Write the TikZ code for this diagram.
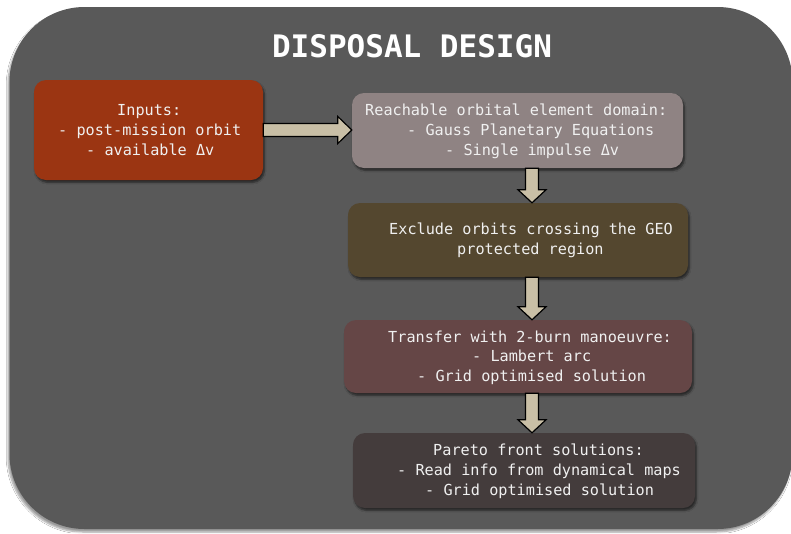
\documentclass[tikz,border=0pt]{standalone}
\usepackage{fontspec}
\newfontfamily\monofnt{DejaVu Sans Mono}
\usetikzlibrary{calc,shadows.blur}
\definecolor{framec}{HTML}{595959}
\definecolor{inc}{HTML}{9B3512}
\definecolor{reachc}{HTML}{8F8383}
\definecolor{exclc}{HTML}{54472F}
\definecolor{transc}{HTML}{654646}
\definecolor{paretoc}{HTML}{443C3C}
\definecolor{arrowc}{HTML}{C9BFA6}
\definecolor{txtc}{HTML}{F0F0F0}
\tikzset{
  frame/.style={fill=framec, rounded corners=75pt, inner sep=0, minimum width=783, minimum height=522,
    blur shadow={shadow xshift=-1.5pt, shadow yshift=-3pt, shadow blur steps=6, shadow opacity=40}},
  box/.style={rounded corners=12pt, inner sep=0, draw=none,
    blur shadow={shadow xshift=1.5pt, shadow yshift=-2.5pt, shadow blur steps=5, shadow opacity=55}},
  txt/.style={anchor=mid west, inner sep=0, text=txtc, font=\monofnt\fontsize{15.2}{18}\selectfont},
  title/.style={inner sep=0, text=white, font=\monofnt\bfseries\fontsize{31}{36}\selectfont},
  barrow/.style={fill=arrowc, draw=black, line width=1.2pt, line join=miter}
}
\newcommand\myvarrow[2]{%
  \draw[barrow] ($(ax |- #1.south)+(-6.5,0)$) -- ($(ax |- #2.north)+(-6.5,-13)$)
    -- ($(ax |- #2.north)+(-14,-13)$) -- (ax |- #2.north) -- ($(ax |- #2.north)+(14,-13)$)
    -- ($(ax |- #2.north)+(6.5,-13)$) -- ($(ax |- #1.south)+(6.5,0)$) -- cycle;}
\begin{document}
\begin{tikzpicture}[x=1pt,y=-1pt]
\useasboundingbox (0,0) rectangle (791,533);
\fill[white] (0,0) rectangle (791,533);
\node[frame] (fr) at (401,268) {};
\node[title] (ttl) at (412,46) {DISPOSAL DESIGN};

\node[box, fill=inc, minimum width=229, minimum height=100] (in) at (148.5,130) {};
\node[box, fill=reachc, minimum width=331, minimum height=75] (reach) at (517.5,130.5) {};
\node[box, fill=exclc, minimum width=340, minimum height=74] (excl) at (518,240) {};
\node[box, fill=transc, minimum width=348, minimum height=73] (trans) at (518,356.5) {};
\node[box, fill=paretoc, minimum width=342, minimum height=75] (pareto) at (524,470.5) {};

\coordinate (ax) at (532,0);
\draw[barrow] ($(in.east)+(0,-6.5)$) -- ($(in.east -| reach.west)+(-14,-6.5)$)
  -- ($(in.east -| reach.west)+(-14,-13.5)$) -- (in.east -| reach.west)
  -- ($(in.east -| reach.west)+(-14,13.5)$) -- ($(in.east -| reach.west)+(-14,6.5)$)
  -- ($(in.east)+(0,6.5)$) -- cycle;
\myvarrow{reach}{excl}
\myvarrow{excl}{trans}
\myvarrow{trans}{pareto}

\node[txt] (in1) at (117,113) {Inputs:};
\node[txt] (in2) at (58,133) {- post-mission orbit};
\node[txt] (in3) at (86,153) {- available Δv};

\node[txt] (re1) at (365,113) {Reachable orbital element domain:};
\node[txt] (re2) at (407,133) {- Gauss Planetary Equations};
\node[txt] (re3) at (445,153) {- Single impulse Δv};

\node[txt] (ex1) at (389,232) {Exclude orbits crossing the GEO};
\node[txt] (ex2) at (457,252) {protected region};

\node[txt] (tr1) at (388,340) {Transfer with 2-burn manoeuvre:};
\node[txt] (tr2) at (472,359) {- Lambert arc};
\node[txt] (tr3) at (417,379) {- Grid optimised solution};

\node[txt] (pa1) at (433,453) {Pareto front solutions:};
\node[txt] (pa2) at (397,473) {- Read info from dynamical maps};
\node[txt] (pa3) at (425,493) {- Grid optimised solution};
\end{tikzpicture}
\end{document}
